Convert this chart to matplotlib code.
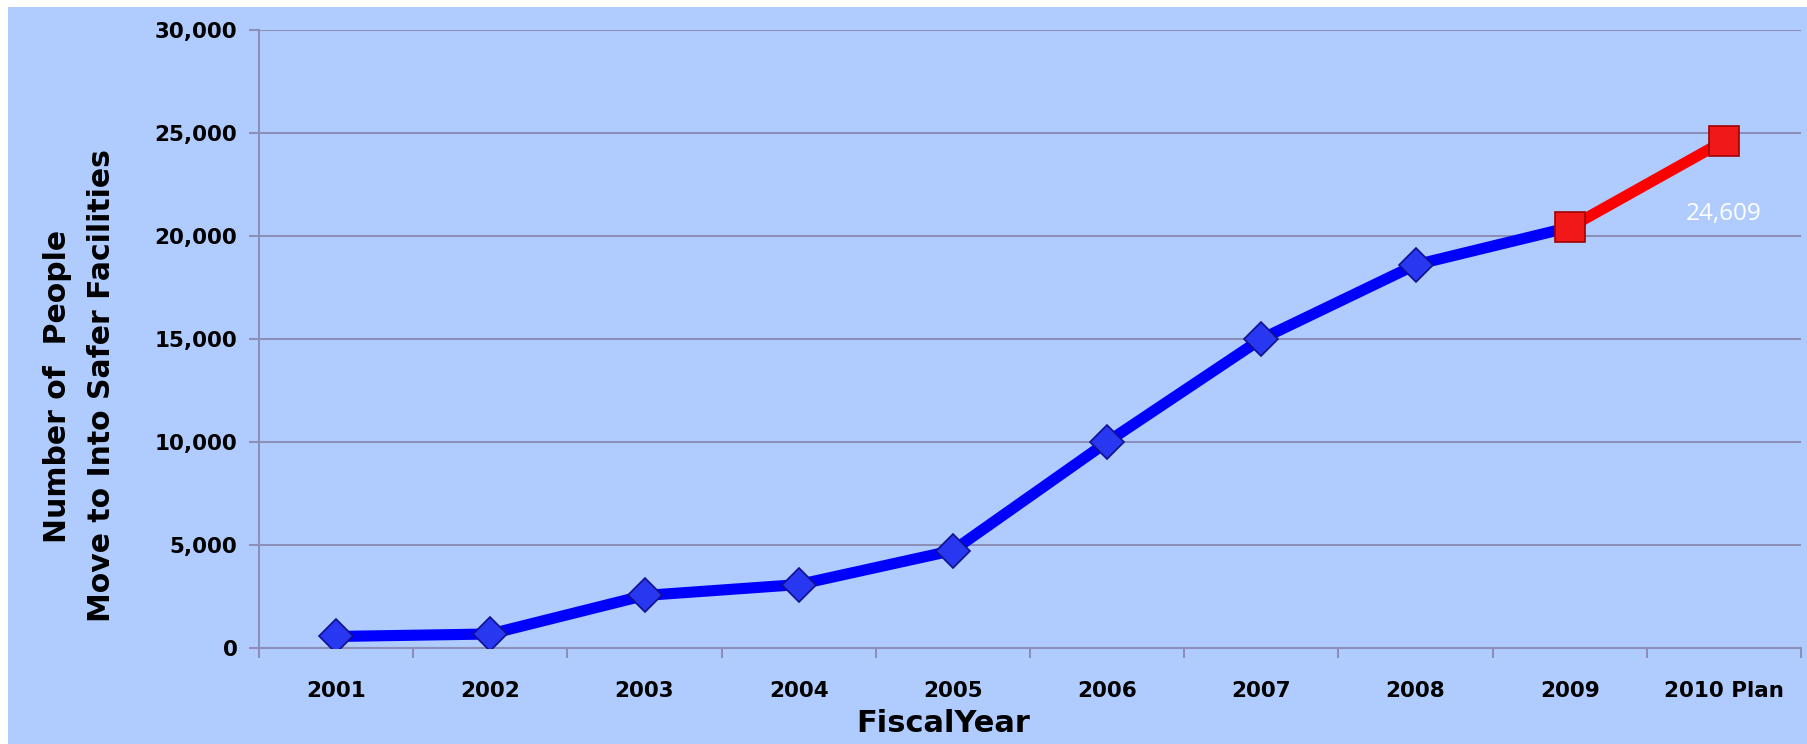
import matplotlib
matplotlib.use("Agg")
import matplotlib.pyplot as plt
from matplotlib.patches import Rectangle
from matplotlib.ticker import FuncFormatter, FixedLocator
import numpy as np

categories = ["2001", "2002", "2003", "2004", "2005", "2006", "2007", "2008", "2009", "2010 Plan"]
actual_values = [560, 680, 2550, 3080, 4730, 10000, 15000, 18600, 20420]
plan_values = [20420, 24609]
plan_label = "24,609"
y_ticks = [0, 5000, 10000, 15000, 20000, 25000, 30000]

BG = "#B0CCFF"
GRID = "#8C90B8"

fig = plt.figure(figsize=(18.07, 7.44), dpi=100)
fig.patch.set_facecolor("white")
bg = Rectangle((8 / 1807, 0 / 744), 1 - 8 / 1807, 1 - 7 / 744,
               transform=fig.transFigure, facecolor=BG, edgecolor="none", zorder=-10)
fig.patches.append(bg)

ax = fig.add_axes([259 / 1807, 1 - 648 / 744, (1801 - 259) / 1807, (648 - 30) / 744])
ax.set_facecolor(BG)
ax.patch.set_alpha(0)

x = np.arange(len(categories))
xa = x[:len(actual_values)]
xp = x[len(actual_values) - 1:]

ax.plot(xa, actual_values, color="#0000FF", lw=8, solid_capstyle="butt", zorder=3)
ax.plot(xp, plan_values, color="#FF0000", lw=8, solid_capstyle="butt", zorder=3)
ax.plot(xa[:-1], actual_values[:-1], linestyle="none", marker="D", markersize=17,
        markerfacecolor="#2838F0", markeredgecolor="#101090", markeredgewidth=1.2, zorder=4)
ax.plot(xp, plan_values, linestyle="none", marker="s", markersize=22,
        markerfacecolor="#F01818", markeredgecolor="#A00000", markeredgewidth=1.2, zorder=5)

# data label below the last point (white)
ax.annotate(plan_label, xy=(xp[-1], plan_values[-1]), xytext=(0, -73), textcoords="offset pixels",
            ha="center", va="center", color="white", fontsize=17.5, family="Open Sans", zorder=6)

ax.set_xlim(-0.5, len(categories) - 0.5)
ax.set_ylim(0, 30000)
ax.set_yticks(y_ticks)
ax.yaxis.set_major_formatter(FuncFormatter(lambda v, p: f"{int(v):,}"))
ax.set_xticks(x)
ax.set_xticklabels(categories)
ax.xaxis.set_minor_locator(FixedLocator(np.arange(-0.5, len(categories), 1.0)))
ax.tick_params(axis="x", which="major", length=0, pad=23.5)
ax.tick_params(axis="x", which="minor", length=7, width=1.5, color=GRID, direction="out")
ax.tick_params(axis="y", which="major", length=7, width=1.5, color=GRID, direction="out", pad=8.5)

for lab in ax.get_xticklabels() + ax.get_yticklabels():
    lab.set_fontweight("bold")
    lab.set_fontsize(15.5)
    lab.set_color("black")

ax.grid(axis="y", color=GRID, lw=1.5, zorder=1)
ax.set_axisbelow(True)
for s in ["top", "right"]:
    ax.spines[s].set_visible(False)
for s in ["left", "bottom"]:
    ax.spines[s].set_color(GRID)
    ax.spines[s].set_linewidth(1.5)

fig.text(58 / 1807, 1 - 386 / 744, "Number of  People", rotation=90, ha="center", va="center",
         fontsize=21.5, fontweight="bold")
fig.text(102 / 1807, 1 - 386 / 744, "Move to Into Safer Facilities", rotation=90, ha="center", va="center",
         fontsize=21.5, fontweight="bold")
fig.text(943 / 1807, 1 - 724 / 744, "FiscalYear", ha="center", va="center",
         fontsize=22, fontweight="bold")

fig.savefig("out.png", dpi=100, facecolor=fig.get_facecolor())
